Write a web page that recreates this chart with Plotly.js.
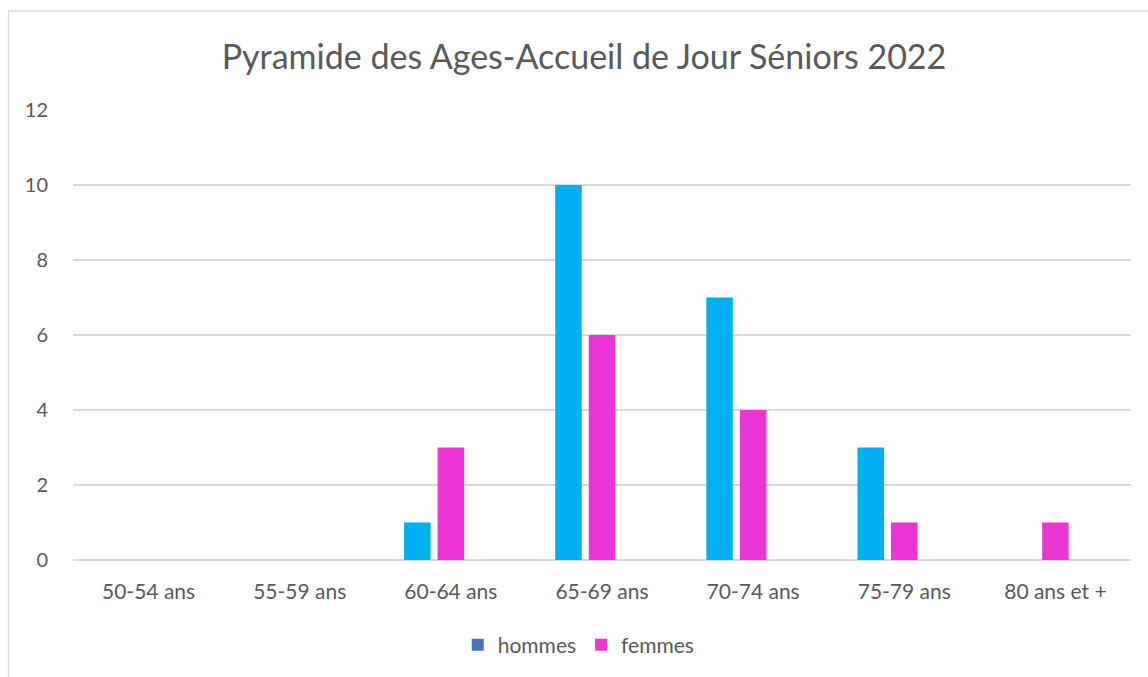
<!DOCTYPE html>
<html><head><meta charset="utf-8">
<script src="https://cdn.plot.ly/plotly-3.0.1.min.js"></script>
<style>html,body{margin:0;padding:0;background:#fff;}#c{width:1148px;height:677px;}</style>
</head><body><div id="c"></div>
<script>
const categories = ["50-54 ans","55-59 ans","60-64 ans","65-69 ans","70-74 ans","75-79 ans","80 ans et +"];
const hommes = [0,0,1,10,7,3,0];
const femmes = [0,0,3,6,4,1,1];
const yTicks = [0,2,4,6,8,10,12];

const font = "Lato, 'Open Sans', sans-serif";
const barW = 0.1755, slot = 0.2219, start = -1.5*slot + (slot-barW)/2;
const traces = [
  {type:'bar', name:'hommes', x:categories, y:hommes, marker:{color:'#00B0F0'}, width:barW, offset:start},
  {type:'bar', name:'femmes', x:categories, y:femmes, marker:{color:'#EB35D5'}, width:barW, offset:start+slot}
];
const layout = {
  width:1148, height:677,
  margin:{l:73, r:17, t:110, b:117},
  paper_bgcolor:'#fff', plot_bgcolor:'#fff',
  font:{family:font, color:'#595959', size:20},
  title:{text:'Pyramide des Ages-Accueil de Jour Séniors 2022', font:{size:34, color:'#595959', family:font}, x:584/1148, xanchor:'center', y:1-57/677, yanchor:'middle'},
  barmode:'overlay',
  xaxis:{type:'category', categoryarray:categories, range:[-0.5,6.5], showgrid:false, zeroline:false, showline:false, ticks:'', ticklabelstandoff:17, tickfont:{size:21}},
  yaxis:{range:[0,12], tickvals:yTicks, ticktext:yTicks.map(String), showgrid:true, gridcolor:'#D9D9D9', gridwidth:1.3, zeroline:true, zerolinecolor:'#D9D9D9', zerolinewidth:1.3, showline:false, ticks:'', ticklabelstandoff:24, tickfont:{size:20}},
  legend:{orientation:'h', x:0.478, xanchor:'center', y:-0.189, yanchor:'middle', font:{size:21}, itemwidth:30, tracegroupgap:0},
  shapes:[{type:'rect', xref:'paper', yref:'paper', x0:(8.5-73)/1058, x1:1.2, y0:-0.5, y1:(560-11)/450, line:{color:'#D9D9D9', width:1.3}, fillcolor:'rgba(0,0,0,0)', layer:'below'}],
  showlegend:true
};
Plotly.newPlot('c', traces, layout, {displayModeBar:false, staticPlot:true}).then(function(){
  document.querySelectorAll('.legend .traces').forEach(function(t){
    if (t.textContent.trim() === 'hommes') {
      t.querySelectorAll('.legendpoints path').forEach(function(p){ p.style.fill = '#4472C4'; });
    }
  });
});
</script></body></html>
